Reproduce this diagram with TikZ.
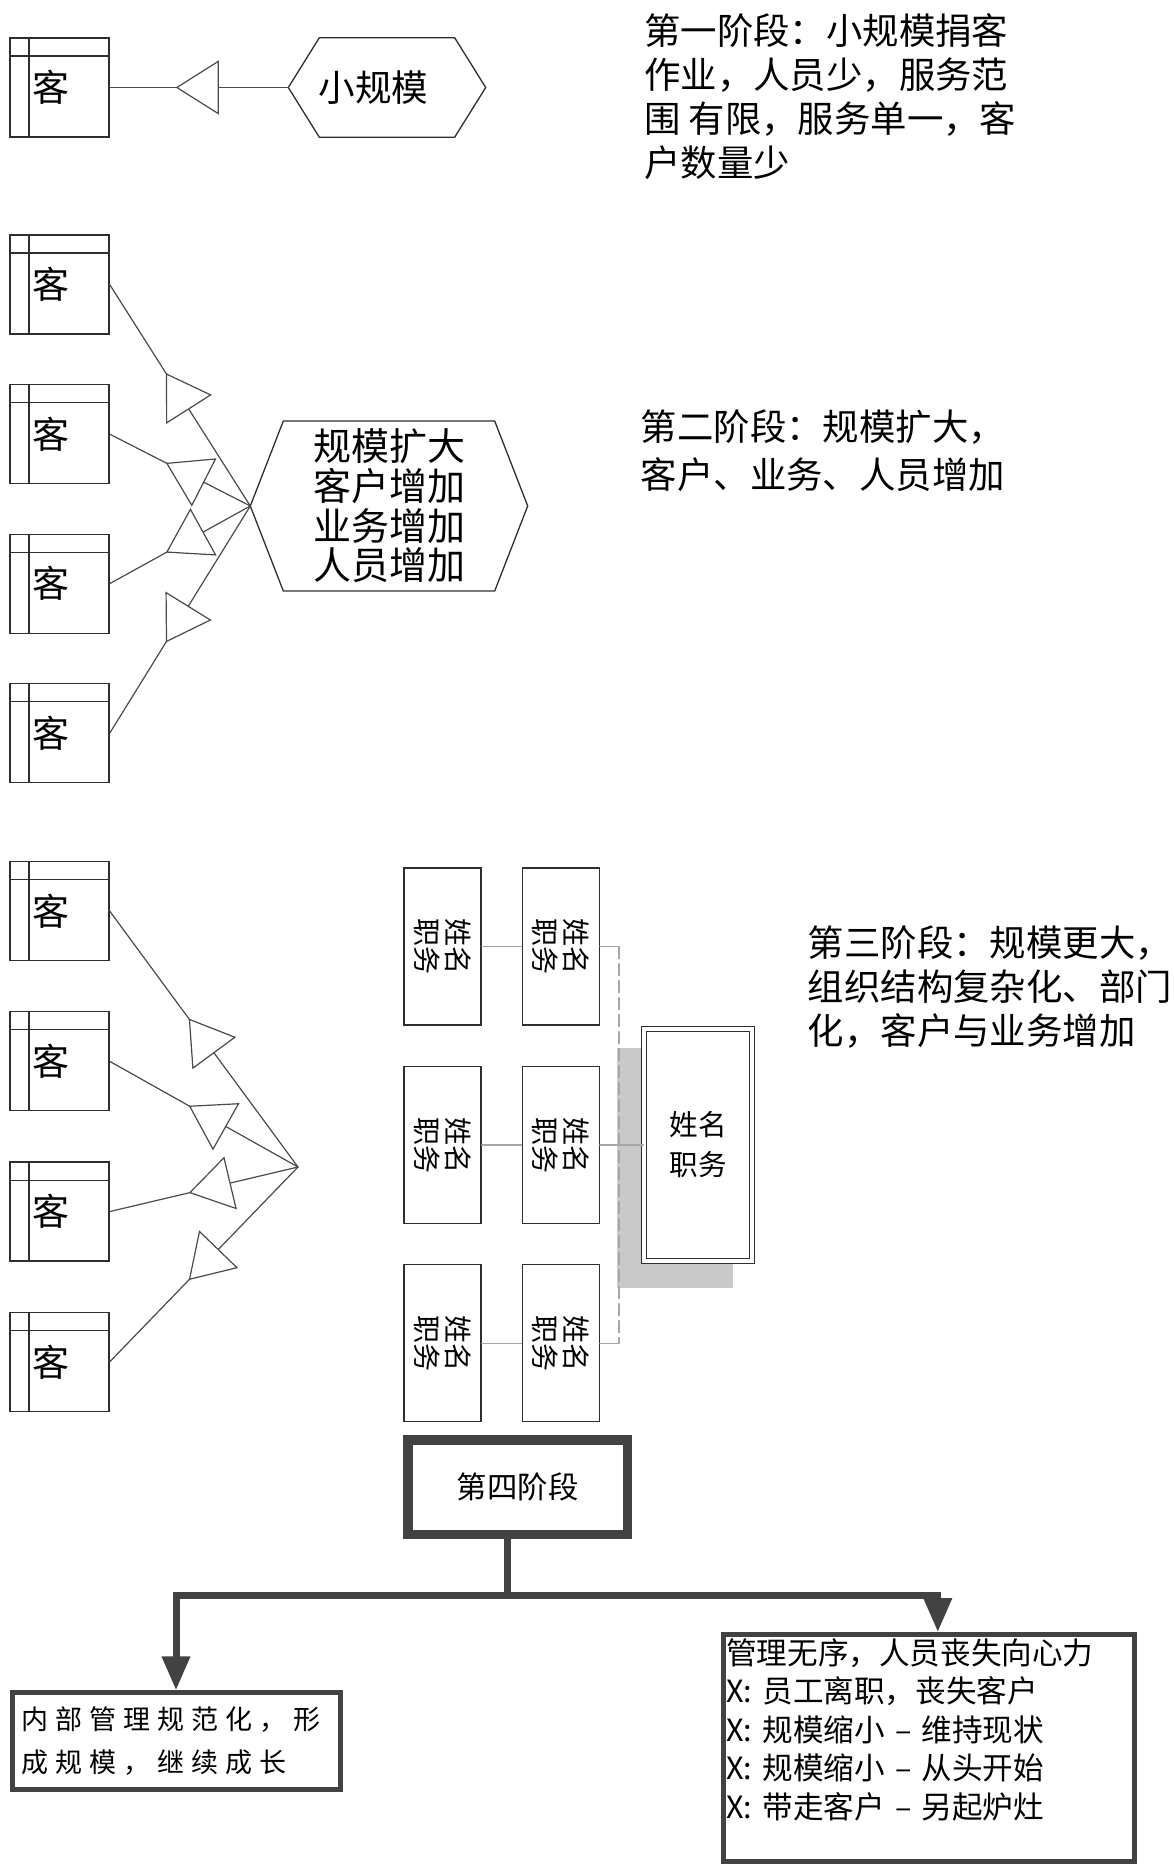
\documentclass[tikz,border=0pt]{standalone}
\usepackage{fontspec}
\setmainfont{Noto Sans CJK SC}
\newfontfamily\spacedcjk{Noto Sans CJK SC}[LetterSpace=26]
\usetikzlibrary{arrows.meta,decorations.markings,backgrounds,positioning}
\definecolor{linegray}{HTML}{4A4A4A}
\definecolor{boxgray}{HTML}{2E2E2E}
\definecolor{thickgray}{HTML}{424242}
\definecolor{shadowgray}{HTML}{C9C9C9}
\newcommand{\hexframe}[2]{\draw[boxgray,line width=1.3pt,line join=miter] (#1.west) -- ([xshift=#2]#1.north west) -- ([xshift=-#2]#1.north east) -- (#1.east) -- ([xshift=-#2]#1.south east) -- ([xshift=#2]#1.south west) -- cycle;}
\begin{document}
\begin{tikzpicture}[x=1pt,y=-1pt,line cap=round,
  kebox/.style={draw=boxgray,line width=1.3pt,minimum height=99pt,text width=55pt,inner xsep=22pt,inner ysep=0pt,align=left,font=\fontsize{37}{40}\selectfont,
    path picture={\draw[boxgray,line width=1.1pt] ([xshift=19pt]path picture bounding box.north west) -- ([xshift=19pt]path picture bounding box.south west);
      \draw[boxgray,line width=1.1pt] ([yshift=-18pt]path picture bounding box.north west) -- ([yshift=-18pt]path picture bounding box.north east);}},
  hexnode/.style={minimum width=#1,inner sep=0pt},
  link/.style={linegray,line width=1.2pt},
  trimark/.style={postaction={decorate,decoration={markings,mark=at position #1 with {\arrow{Triangle[length=43pt,width=54pt,fill=white]}}}}},
  stagetext/.style={anchor=north west,inner sep=0pt,align=left},
  staff/.style={draw=boxgray,line width=1.3pt,rotate=-90,minimum width=157pt,minimum height=77pt,inner sep=0pt,align=center,font=\fontsize{28}{31}\selectfont},
  orgline/.style={gray!70,line width=1.3pt},
  thickbox/.style={draw=thickgray,line width=#1},
  bigline/.style={thickgray,line width=7pt,line cap=butt},
  bigarrow/.style={bigline,-{Triangle[length=34pt,width=27pt]}}]
\path[use as bounding box] (0,0) rectangle (1174,1870);

\node[kebox] (k1) at (59.5,87.5) {客};
\node[hexnode=197pt,minimum height=99pt,font=\fontsize{36.6}{40}\selectfont] (h1) at (387,87.5) {小规模\rule{27pt}{0pt}};
\hexframe{h1}{31pt}
\draw[link,trimark=0.63] (h1.west) -- (k1.east);
\node[stagetext,font=\fontsize{36.4}{44}\selectfont] (s1) at (644,13) {第一阶段：小规模捐客\\作业，人员少，服务范\\围 有限，服务单一，客\\户数量少};

\node[kebox] (k21) at (59.5,284.5) {客};
\node[kebox,below=49.3pt of k21] (k22) {客};
\node[kebox,below=49.3pt of k22] (k23) {客};
\node[kebox,below=49.3pt of k23] (k24) {客};
\node[hexnode=277pt,minimum height=169.5pt,align=center,font=\fontsize{38}{39.7}\selectfont] (h2) at (389,506) {规模扩大\\客户增加\\业务增加\\人员增加};
\hexframe{h2}{33pt}
\foreach \cust in {k21,k22,k23,k24}
  \draw[link,trimark=0.6] (h2.west) -- (\cust.east);
\node[stagetext,font=\fontsize{36.4}{47.7}\selectfont] (s2) at (640.6,410) {第二阶段：规模扩大，\\客户、业务、人员增加};

\node[kebox] (k31) at (59.5,911) {客};
\node[kebox,below=50pt of k31] (k32) {客};
\node[kebox,below=50pt of k32] (k33) {客};
\node[kebox,below=50pt of k33] (k34) {客};
\coordinate (hub3) at (298,1167);
\foreach \cust in {k31,k32,k33,k34}
  \draw[link,trimark=0.58] (hub3) -- (\cust.east);

\node[staff] (o11) at (442.6,946.6) {姓名\\职务};
\node[staff] (o12) at (560.7,946.6) {姓名\\职务};
\node[staff] (o21) at (442.6,1145) {姓名\\职务};
\node[staff] (o22) at (560.7,1145) {姓名\\职务};
\node[staff] (o31) at (442.6,1343.3) {姓名\\职务};
\node[staff] (o32) at (560.7,1343.3) {姓名\\职务};
\node[draw=boxgray,line width=1.2pt,double=white,double distance=4pt,fill=white,minimum width=108pt,minimum height=232pt,align=center,font=\fontsize{28.6}{40}\selectfont] (boss) at (698,1145) {姓名\\职务};
\begin{scope}[on background layer]
\fill[shadowgray] ([shift={(-26pt,-26pt)}]boss.south west) rectangle ([shift={(-20pt,-20pt)}]boss.north east);
\end{scope}
\draw[orgline] (o11) -- (o12);
\draw[orgline] (o21) -- (o22);
\draw[orgline] (o31) -- (o32);
\coordinate (bus1) at (619,946.6);
\coordinate (bus3) at (619,1343.3);
\draw[orgline] (o12) -- (bus1);
\draw[orgline] (o32) -- (bus3);
\draw[orgline,dash pattern=on 12pt off 5pt] (bus1) -- (bus3);
\draw[orgline] (o22) -- (boss);
\node[stagetext,font=\fontsize{36.4}{44}\selectfont] (s3) at (807.7,925.5) {第三阶段：规模更大，\\组织结构复杂化、部门\\化，客户与业务增加};

\node[thickbox=9.5pt,minimum width=219.5pt,minimum height=94.5pt,font=\fontsize{30.4}{34}\selectfont] (p4) at (517.7,1487) {第四阶段};
\node[thickbox=5pt,text width=309pt,inner xsep=9.5pt,minimum height=96.5pt,align=left,font=\spacedcjk\fontsize{27}{43}\selectfont] (good) at (176,1741) {内部管理规范化，形\\成规模，继续成长};
\node[thickbox=5pt,text width=405pt,inner sep=3pt,minimum height=226.5pt,align=left,font=\fontsize{30.6}{38.5}\selectfont] (bad) at (928.8,1747.8) {管理无序，人员丧失向心力\\X: 员工离职，丧失客户\\X: 规模缩小 – 维持现状\\X: 规模缩小 – 从头开始\\X: 带走客户 – 另起炉灶\\\mbox{}};
\draw[bigline] ([xshift=-10pt]p4.south) -- ++(0,56) coordinate (fork);
\draw[bigarrow] (fork) -| (good);
\draw[bigarrow] (fork) -| ([xshift=9pt]bad.north);
\end{tikzpicture}
\end{document}
